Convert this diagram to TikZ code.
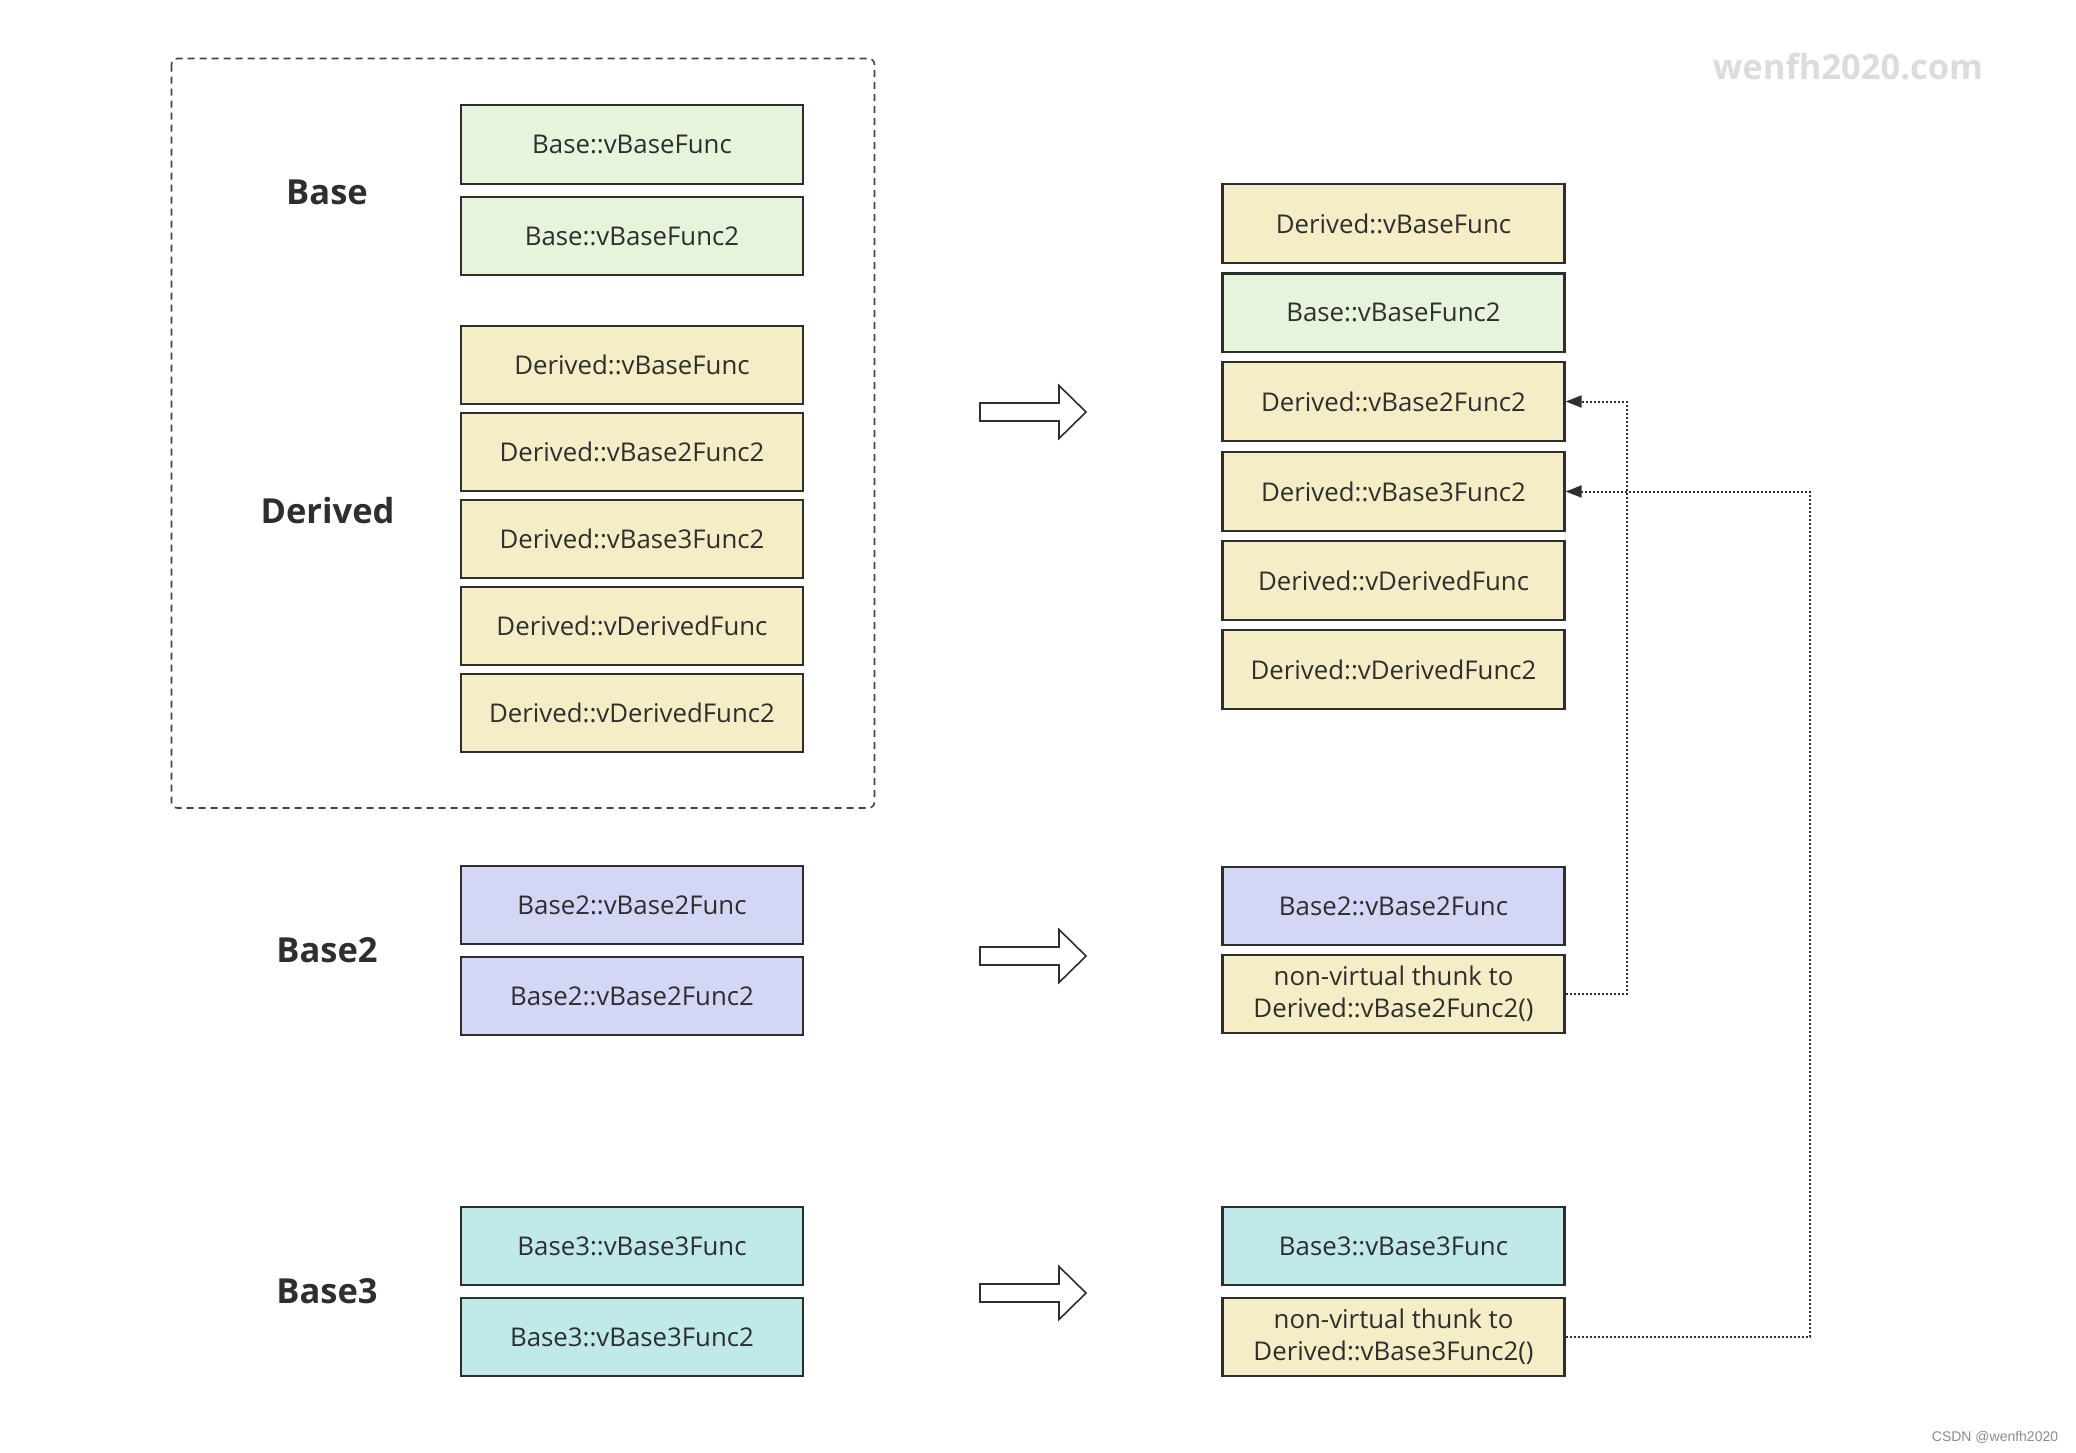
\documentclass[tikz,border=0pt]{standalone}
\usepackage{fontspec}
\setmainfont{Open Sans}
\newfontfamily\wmfont{Liberation Sans}
\usetikzlibrary{arrows.meta}
\definecolor{gfill}{HTML}{E7F4DC}
\definecolor{yfill}{HTML}{F5EDC6}
\definecolor{pfill}{HTML}{D3D6F5}
\definecolor{cfill}{HTML}{C0E9EA}
\definecolor{ink}{HTML}{2E2E2E}
\definecolor{wm}{HTML}{DCDCDC}
\tikzset{
  fbox/.style={draw=ink, line width=2.3pt, minimum width=342pt, minimum height=78.5pt,
    inner sep=0pt, font=\fontsize{25.8}{32}\selectfont, text=ink, align=center},
  gbox/.style={fbox, fill=gfill},
  ybox/.style={fbox, fill=yfill},
  pbox/.style={fbox, fill=pfill},
  cbox/.style={fbox, fill=cfill},
  grp/.style={font=\bfseries\fontsize{34.5}{36}\selectfont, text=ink, inner sep=0pt},
  hollow/.style={draw=ink, line width=1.6pt, fill=white, line join=miter},
  link/.style={draw=ink, line width=2pt, dash pattern=on 2pt off 2pt,
    -{Triangle[length=16pt,width=12pt]}},
}
\begin{document}
\begin{tikzpicture}[x=1pt,y=-1pt]
\useasboundingbox (0,0) rectangle (2076,1452);
\fill[white] (0,0) rectangle (2076,1452);

% dashed group frame
\draw[draw=ink!90, line width=1.6pt, dash pattern=on 7pt off 5pt, rounded corners=6pt]
  (171.5,58.5) rectangle (874.5,808);

% group labels
\node[grp] (lbase) at (327,192.5) {Base};
\node[grp] (lderived) at (327.5,510.5) {Derived};
\node[grp] (lbase2) at (327,950) {Base2};
\node[grp] (lbase3) at (327,1291.5) {Base3};

% left column
\node[gbox] (b1) at (632,144.5) {Base::vBaseFunc};
\node[gbox] (b2) at (632,236) {Base::vBaseFunc2};
\node[ybox] (d1) at (632,365) {Derived::vBaseFunc};
\node[ybox] (d2) at (632,452) {Derived::vBase2Func2};
\node[ybox] (d3) at (632,539) {Derived::vBase3Func2};
\node[ybox] (d4) at (632,626) {Derived::vDerivedFunc};
\node[ybox] (d5) at (632,713) {Derived::vDerivedFunc2};
\node[pbox] (p1) at (632,905) {Base2::vBase2Func};
\node[pbox] (p2) at (632,996) {Base2::vBase2Func2};
\node[cbox] (c1) at (632,1246) {Base3::vBase3Func};
\node[cbox] (c2) at (632,1337) {Base3::vBase3Func2};

% right column
\node[ybox] (r1) at (1393.5,223.5) {Derived::vBaseFunc};
\node[gbox] (r2) at (1393.5,312.6) {Base::vBaseFunc2};
\node[ybox] (r3) at (1393.5,401.5) {Derived::vBase2Func2};
\node[ybox] (r4) at (1393.5,491.5) {Derived::vBase3Func2};
\node[ybox] (r5) at (1393.5,580.5) {Derived::vDerivedFunc};
\node[ybox] (r6) at (1393.5,669.5) {Derived::vDerivedFunc2};
\node[pbox] (s1) at (1393.5,906) {Base2::vBase2Func};
\node[ybox] (t2) at (1393.5,994) {non-virtual thunk to\\Derived::vBase2Func2()};
\node[cbox] (s3) at (1393.5,1246) {Base3::vBase3Func};
\node[ybox] (t3) at (1393.5,1337) {non-virtual thunk to\\Derived::vBase3Func2()};

% hollow block arrows
\foreach \cy in {412,956,1293}{
  \draw[hollow] (980,\cy-9) -- (1059,\cy-9) -- (1059,\cy-26.5) -- (1086,\cy)
    -- (1059,\cy+26.5) -- (1059,\cy+9) -- (980,\cy+9) -- cycle;
}

% dotted connectors
\draw[link] (t2.east) -- ++(61,0) |- (r3.east);
\draw[link] (t3.east) -- ++(244,0) |- (r4.east);

% watermarks
\node[anchor=base, inner sep=0pt, text=wm, font=\bfseries\fontsize{34.5}{36}\selectfont] (wmark) at (1848,79) {wenfh2020.com};
\node[anchor=base, inner sep=0pt, text=ink!55, font=\wmfont\fontsize{14}{16}\selectfont] (csdn) at (1995,1441) {CSDN @wenfh2020};
\end{tikzpicture}
\end{document}
